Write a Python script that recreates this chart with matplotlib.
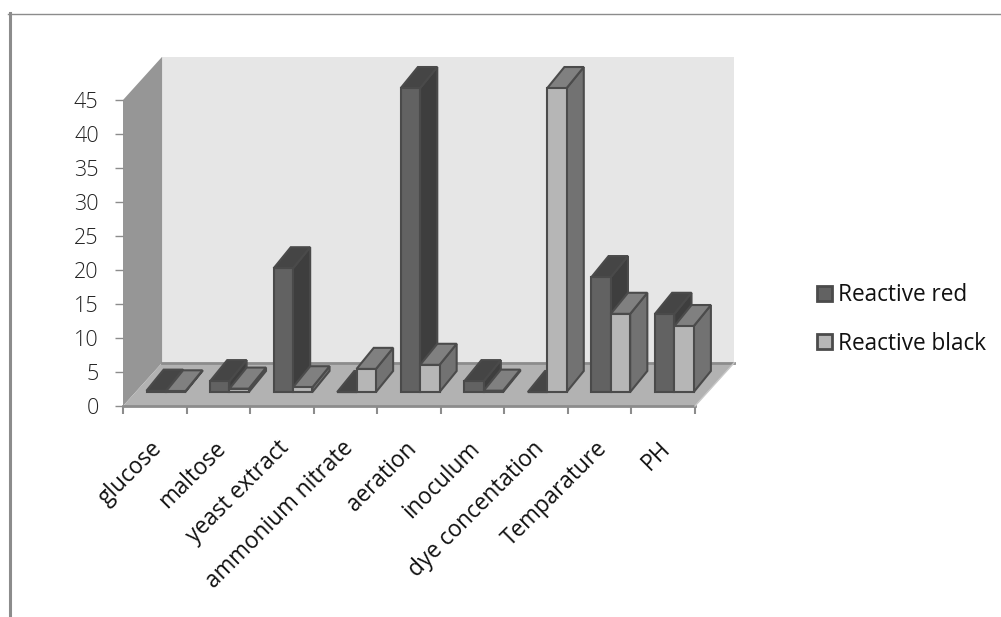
import matplotlib
matplotlib.use("Agg")
import matplotlib.pyplot as plt
from matplotlib.patches import Polygon, Patch
from matplotlib.lines import Line2D

categories = ["glucose", "maltose", "yeast extract", "ammonium nitrate", "aeration",
              "inoculum", "dye concentation", "Temparature", "PH"]
reactive_red = [0.2, 1.6, 18.2, 0.0, 44.7, 1.6, 0.0, 16.9, 11.5]
reactive_black = [0.1, 0.5, 0.7, 3.4, 4.0, 0.2, 44.7, 11.5, 9.7]
y_ticks = [0, 5, 10, 15, 20, 25, 30, 35, 40, 45]

W, H = 1001, 617
plt.rcParams["font.family"] = ["Open Sans", "DejaVu Sans"]

fig = plt.figure(figsize=(W / 100, H / 100), dpi=100)
# axes cover the front edge of the floor up to the 45 tick
ax = fig.add_axes([123 / W, 1 - 406 / H, 572 / W, 306 / H])
ax.set_xlim(0, 9)
ax.set_ylim(0, 45)
ax.patch.set_alpha(0)
for s in ax.spines.values():
    s.set_visible(False)

# wall depth and bar depth, in axis units
wall_dx, wall_dy = 0.615, 6.35
bar_dx, bar_dy = 0.27, 3.1
shift_y = 2.05
bar_w = 0.305
gap = 0.37

GRID = "#8c8c8c"
EDGE = "#4b4b4b"


def poly(pts, face, edge="none", lw=0, z=1):
    ax.add_patch(Polygon(pts, closed=True, facecolor=face, edgecolor=edge,
                         linewidth=lw, clip_on=False, zorder=z, joinstyle="miter"))


# back wall, side wall, floor
poly([(wall_dx, wall_dy), (9 + wall_dx, wall_dy), (9 + wall_dx, 45 + wall_dy), (wall_dx, 45 + wall_dy)], "#e6e6e6")
poly([(0, 0), (wall_dx, wall_dy), (wall_dx, 45 + wall_dy), (0, 45)], "#969696")
poly([(0, 0), (9, 0), (9 + wall_dx, wall_dy), (wall_dx, wall_dy)], "#b2b2b2")
ax.plot([wall_dx, 9 + wall_dx], [wall_dy, wall_dy], color=GRID, lw=2, clip_on=False, zorder=2)
ax.plot([0, 9], [0, 0], color=GRID, lw=2, clip_on=False, zorder=2)
ax.plot([9, 9 + wall_dx], [0, wall_dy], color="#c8c8c8", lw=1, clip_on=False, zorder=2)


def bar3d(x0, val, front, side, top, edge, z):
    x1 = x0 + bar_w
    y0 = shift_y
    y1 = shift_y + val
    poly([(x1, y0), (x1 + bar_dx, y0 + bar_dy), (x1 + bar_dx, y1 + bar_dy), (x1, y1)], side, edge, 1.5, z)
    poly([(x0, y1), (x1, y1), (x1 + bar_dx, y1 + bar_dy), (x0 + bar_dx, y1 + bar_dy)], top, edge, 1.5, z)
    poly([(x0, y0), (x1, y0), (x1, y1), (x0, y1)], front, edge, 1.5, z)


for i in range(len(categories)):
    x_red = i + gap
    bar3d(x_red, reactive_red[i], "#626262", "#3e3e3e", "#454545", "#4a4a4a", 3 + i * 2)
    bar3d(x_red + bar_w, reactive_black[i], "#b6b6b6", "#727272", "#808080", EDGE, 4 + i * 2)

# ticks
ax.set_yticks(y_ticks)
ax.set_xticks(range(10))
ax.set_xticklabels([])
ax.tick_params(axis="both", length=5.5, width=1.5, color=GRID, pad=12)
ax.tick_params(axis="y", labelsize=15.5, labelcolor="#222222", width=1)
for lab in ax.get_yticklabels():
    lab.set_fontweight("light")

for i, name in enumerate(categories):
    ax.annotate(name, xy=(i + 0.5, 0), xytext=(3, -28), textcoords="offset points",
                rotation=45, rotation_mode="anchor", ha="right", va="center",
                fontsize=16.3, color="#111111", annotation_clip=False)

# legend
handles = [Patch(facecolor="#626262", edgecolor=EDGE, linewidth=2, label="Reactive red"),
           Patch(facecolor="#b6b6b6", edgecolor=EDGE, linewidth=2, label="Reactive black")]
fig.legend(handles=handles, loc="center left", bbox_to_anchor=(817 / W, 1 - 319.5 / H), frameon=False,
           fontsize=16.3, labelcolor="#111111", handlelength=0.66, handleheight=0.66,
           handletextpad=0.28, labelspacing=1.08, borderpad=0, borderaxespad=0)

# outer frame, left and top only
fig.add_artist(Line2D([9.5 / W, 9.5 / W], [1 - 13 / H, 0], color="#8c8c8c", lw=2.2))
fig.add_artist(Line2D([8 / W, 1], [1 - 13.5 / H, 1 - 13.5 / H], color="#8c8c8c", lw=1))

fig.savefig("out.png", dpi=100)
